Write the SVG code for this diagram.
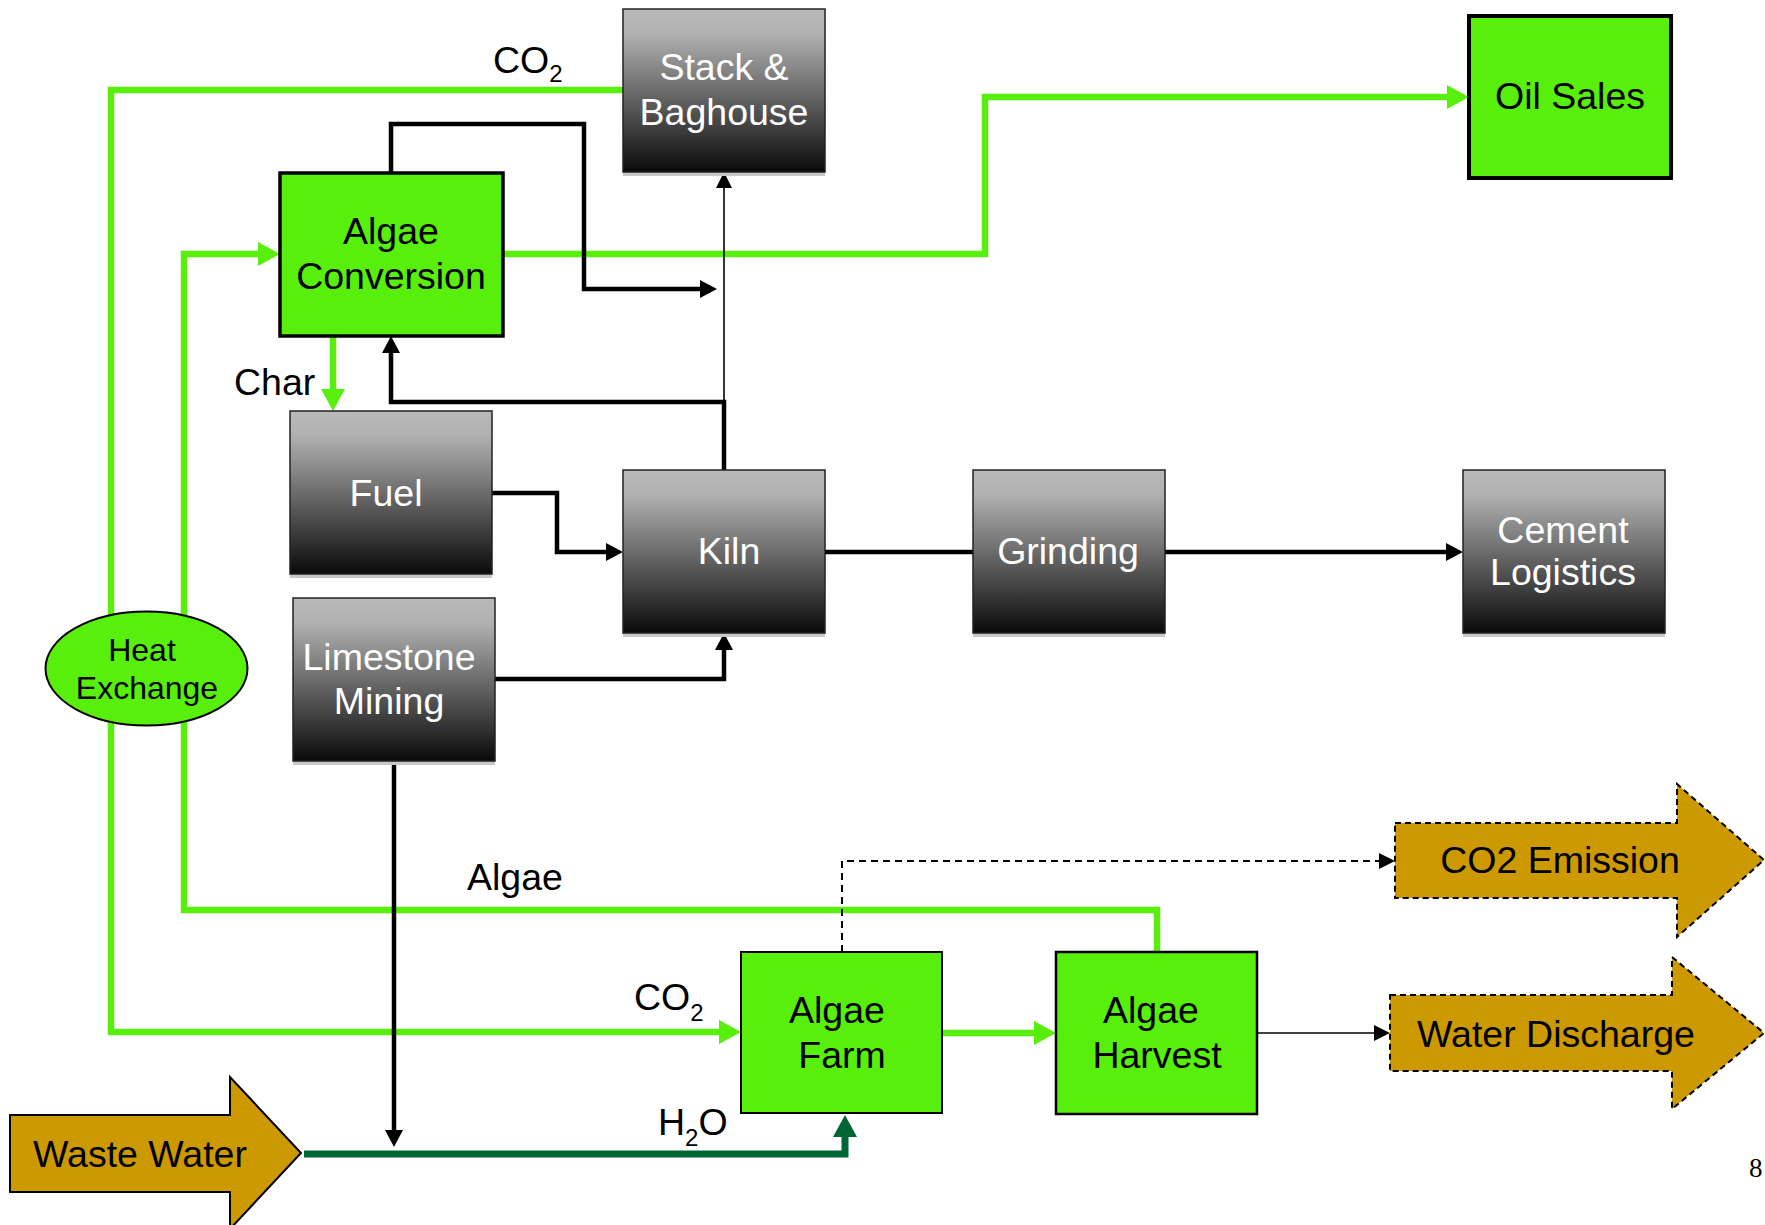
<svg xmlns="http://www.w3.org/2000/svg" width="1765" height="1225" viewBox="0 0 1765 1225">
<defs>
<linearGradient id="gray" x1="0" y1="0" x2="0" y2="1">
<stop offset="0" stop-color="#B9B9B9"/>
<stop offset="0.15" stop-color="#B1B1B1"/>
<stop offset="1" stop-color="#0A0A0A"/>
</linearGradient>
<marker id="ag" markerUnits="userSpaceOnUse" markerWidth="24" markerHeight="24" refX="0" refY="12" orient="auto"><path d="M0,0 L22,12 L0,24 z" fill="#58EF0C"/></marker>
<marker id="ab" markerUnits="userSpaceOnUse" markerWidth="18" markerHeight="18" refX="0" refY="9" orient="auto"><path d="M0,0 L17,9 L0,18 z" fill="#000"/></marker>
<marker id="at" markerUnits="userSpaceOnUse" markerWidth="16" markerHeight="16" refX="0" refY="8" orient="auto"><path d="M0,0 L16,8 L0,16 z" fill="#000"/></marker>
<marker id="ad" markerUnits="userSpaceOnUse" markerWidth="24" markerHeight="24" refX="0" refY="12" orient="auto"><path d="M0,0 L22,12 L0,24 z" fill="#006633"/></marker>
</defs>
<style>
text{font-family:"Liberation Sans",Arial,sans-serif;text-anchor:middle}
.gbox{fill:url(#gray);stroke:#222;stroke-width:1.5}
.shadow{fill:#C8C8C8}
.wt{fill:#fff;font-size:37.5px}
.bt{fill:#000;font-size:37.5px}
.lbl{fill:#000;font-size:37.5px;text-anchor:start}
.sub{font-size:24px}
.green{fill:#58EF0C;stroke:#000}
.gold{fill:#CC9900;stroke:#000;stroke-width:2}
.gl{fill:none;stroke:#58EF0C;stroke-width:6.5}
.bl{fill:none;stroke:#000;stroke-width:4.5}
.tl{fill:none;stroke:#000;stroke-width:1.6}
</style>
<g id="connectors">
<path class="gl" d="M623,90 H111 V1032 H719" marker-end="url(#ag)"/>
<path class="gl" d="M1157,952 V910 H184 V254 H258" marker-end="url(#ag)"/>
<path class="gl" d="M503,254 H985 V97 H1447" marker-end="url(#ag)"/>
<path class="gl" d="M333,336 V389" marker-end="url(#ag)"/>
<path class="gl" d="M942,1033 H1034" marker-end="url(#ag)"/>
<path class="bl" d="M391,172 V124 H584 V289 H700" marker-end="url(#ab)"/>
<path class="bl" d="M724,470 V402 H391 V353" marker-end="url(#ab)"/>
<path class="tl" d="M724,404 V188" marker-end="url(#at)"/>
<path class="bl" d="M492,493 H557 V552 H606" marker-end="url(#ab)"/>
<path class="bl" d="M495,679 H724 V650" marker-end="url(#ab)"/>
<path class="bl" d="M825,552 H973"/>
<path class="bl" d="M1165,552 H1446" marker-end="url(#ab)"/>
<path class="bl" d="M394,761 V1130" marker-end="url(#ab)"/>
<path fill="none" stroke="#006633" stroke-width="7" d="M304,1154 H845 V1137" marker-end="url(#ad)"/>
<path class="tl" stroke-width="2" d="M1257,1033 H1374" marker-end="url(#at)"/>
<path fill="none" stroke="#000" stroke-width="2" stroke-dasharray="7,5" d="M842,952 V861 H1379" marker-end="url(#at)"/>
</g>
<g id="labels">
<text class="lbl" x="493" y="73">CO<tspan class="sub" dy="9">2</tspan></text>
<text class="lbl" x="234" y="395">Char</text>
<text class="lbl" x="467" y="890">Algae</text>
<text class="lbl" x="634" y="1010">CO<tspan class="sub" dy="11">2</tspan></text>
<text class="lbl" x="658" y="1135">H<tspan class="sub" dy="11">2</tspan><tspan dy="-11">O</tspan></text>
<text x="1749" y="1177" style="font-family:'Liberation Serif',serif;font-size:27px;text-anchor:start">8</text>
</g>
<g id="stack">
<rect class="shadow" x="623" y="172" width="202" height="4"/>
<rect class="gbox" x="623" y="9" width="202" height="163"/>
<text class="wt" x="724" y="80">Stack &amp;</text>
<text class="wt" x="724" y="125">Baghouse</text>
</g>
<g id="oil-sales">
<rect class="green" stroke-width="4" x="1469" y="16" width="202" height="162"/>
<text class="bt" x="1570" y="109">Oil Sales</text>
</g>
<g id="algae-conversion">
<rect class="green" stroke-width="3.5" x="280" y="173" width="223" height="163"/>
<text class="bt" x="391" y="244">Algae</text>
<text class="bt" x="391" y="289">Conversion</text>
</g>
<g id="fuel">
<rect class="shadow" x="290" y="574" width="202" height="4"/>
<rect class="gbox" x="290" y="411" width="202" height="163"/>
<text class="wt" x="386" y="506">Fuel</text>
</g>
<g id="kiln">
<rect class="shadow" x="623" y="633" width="202" height="4"/>
<rect class="gbox" x="623" y="470" width="202" height="163"/>
<text class="wt" x="729" y="564">Kiln</text>
</g>
<g id="grinding">
<rect class="shadow" x="973" y="633" width="192" height="4"/>
<rect class="gbox" x="973" y="470" width="192" height="163"/>
<text class="wt" x="1068" y="564">Grinding</text>
</g>
<g id="cement-logistics">
<rect class="shadow" x="1463" y="633" width="202" height="4"/>
<rect class="gbox" x="1463" y="470" width="202" height="163"/>
<text class="wt" x="1563" y="543">Cement</text>
<text class="wt" x="1563" y="585">Logistics</text>
</g>
<g id="limestone-mining">
<rect class="shadow" x="293" y="761" width="202" height="4"/>
<rect class="gbox" x="293" y="598" width="202" height="163"/>
<text class="wt" x="389" y="670">Limestone</text>
<text class="wt" x="389" y="714">Mining</text>
</g>
<g id="heat-exchange">
<ellipse class="green" stroke-width="2" cx="146.5" cy="668.5" rx="101" ry="57"/>
<text class="bt" style="font-size:32px" x="142" y="661">Heat</text>
<text class="bt" style="font-size:32px" x="147" y="699">Exchange</text>
</g>
<g id="algae-farm">
<rect class="green" stroke-width="2" x="741" y="952" width="201" height="161"/>
<text class="bt" x="837" y="1023">Algae</text>
<text class="bt" x="842" y="1068">Farm</text>
</g>
<g id="algae-harvest">
<rect class="green" stroke-width="2.5" x="1056" y="952" width="201" height="162"/>
<text class="bt" x="1151" y="1023">Algae</text>
<text class="bt" x="1157" y="1068">Harvest</text>
</g>
<g id="co2-emission">
<path class="gold" stroke-dasharray="6,4" d="M1395,823 H1677 V784 L1764,860 L1677,937 V898 H1395 Z"/>
<text class="bt" x="1560" y="873">CO2 Emission</text>
</g>
<g id="water-discharge">
<path class="gold" stroke-dasharray="6,4" d="M1390,995 H1672 V957 L1764,1033 L1672,1109 V1071 H1390 Z"/>
<text class="bt" x="1556" y="1047">Water Discharge</text>
</g>
<g id="waste-water">
<path class="gold" d="M10,1115 H230 V1077 L301,1153 L230,1229 V1192 H10 Z"/>
<text class="bt" x="140" y="1167">Waste Water</text>
</g>
</svg>
